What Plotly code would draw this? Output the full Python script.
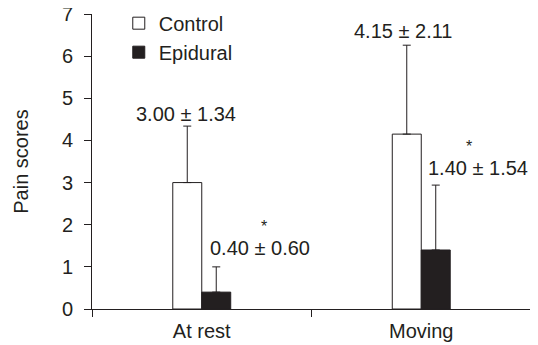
import plotly.graph_objects as go

categories = ["At rest", "Moving"]
control_mean = [3.00, 4.15]
control_sd = [1.34, 2.11]
epidural_mean = [0.40, 1.40]
epidural_sd = [0.60, 1.54]
control_labels = ["3.00 ± 1.34", "4.15 ± 2.11"]
epidural_labels = ["0.40 ± 0.60", "1.40 ± 1.54"]
y_ticks = [0, 1, 2, 3, 4, 5, 6, 7]

INK = "#231f20"
FONT = "Arial, Liberation Sans, sans-serif"
FS = 20

fig = go.Figure()
fig.add_trace(go.Bar(
    name="Control", x=categories, y=control_mean,
    marker=dict(color="white", line=dict(color=INK, width=1)),
    error_y=dict(type="data", array=control_sd, arrayminus=[0, 0], symmetric=False,
                 color=INK, thickness=1, width=4),
))
fig.add_trace(go.Bar(
    name="Epidural", x=categories, y=epidural_mean,
    marker=dict(color=INK, line=dict(color=INK, width=1)),
    error_y=dict(type="data", array=epidural_sd, arrayminus=[0, 0], symmetric=False,
                 color=INK, thickness=1, width=4),
))

# value labels (pixel offsets relative to category centre / error-bar top)
ctrl_xshift = [-16, -18]
ctrl_yshift = [12, 14]
epi_xshift = [58, 57]
epi_yshift = [19, 17]
star_xshift = [62, 48]
font_lab = dict(family=FONT, size=FS, color=INK)
for i, lab in enumerate(control_labels):
    y_top = control_mean[i] + control_sd[i]
    fig.add_annotation(x=i, y=y_top, xshift=ctrl_xshift[i], yshift=ctrl_yshift[i],
                       text=lab, showarrow=False, xanchor="center", yanchor="middle",
                       font=font_lab)
for i, lab in enumerate(epidural_labels):
    y_top = epidural_mean[i] + epidural_sd[i]
    fig.add_annotation(x=i, y=y_top, xshift=epi_xshift[i], yshift=epi_yshift[i],
                       text=lab, showarrow=False, xanchor="center", yanchor="middle",
                       font=font_lab)
    fig.add_annotation(x=i, y=y_top, xshift=star_xshift[i],
                       yshift=epi_yshift[i] + 12,
                       text="*", showarrow=False, xanchor="center", yanchor="bottom",
                       borderpad=0,
                       font=dict(family=FONT, size=16, color=INK))

# page is offset by the browser's 8px body margin, so the figure is 8px smaller
fig.update_layout(
    width=530, height=337,
    margin=dict(l=84, r=7, t=6, b=36, autoexpand=False),
    paper_bgcolor="white", plot_bgcolor="white",
    barmode="group", bargap=0.736, bargroupgap=0,
    font=dict(family=FONT, size=FS, color=INK),
    showlegend=True,
    legend=dict(x=0.061, y=1.035, xanchor="left", yanchor="top",
                bgcolor="rgba(0,0,0,0)", font=dict(family=FONT, size=FS, color=INK),
                itemwidth=30, tracegroupgap=0),
)
fig.update_xaxes(
    type="category", range=[-0.5, 1.5], automargin=False,
    showline=True, linecolor=INK, linewidth=1,
    ticks="outside", tickson="boundaries", ticklen=7, tickcolor=INK, tickwidth=1,
    ticklabelstandoff=4,
    showgrid=False, zeroline=False,
    tickfont=dict(family=FONT, size=FS, color=INK),
)
fig.update_yaxes(
    range=[0, 7.0001], tickvals=y_ticks, automargin=False,
    showline=True, linecolor=INK, linewidth=1,
    ticks="outside", ticklen=7, tickcolor=INK, tickwidth=1,
    ticklabelstandoff=7, ticklabeloverflow="allow",
    showgrid=False, zeroline=False,
    tickfont=dict(family=FONT, size=FS, color=INK),
    title=dict(text="Pain scores", font=dict(family=FONT, size=FS, color=INK), standoff=27),
)

fig.write_html("out.html")
